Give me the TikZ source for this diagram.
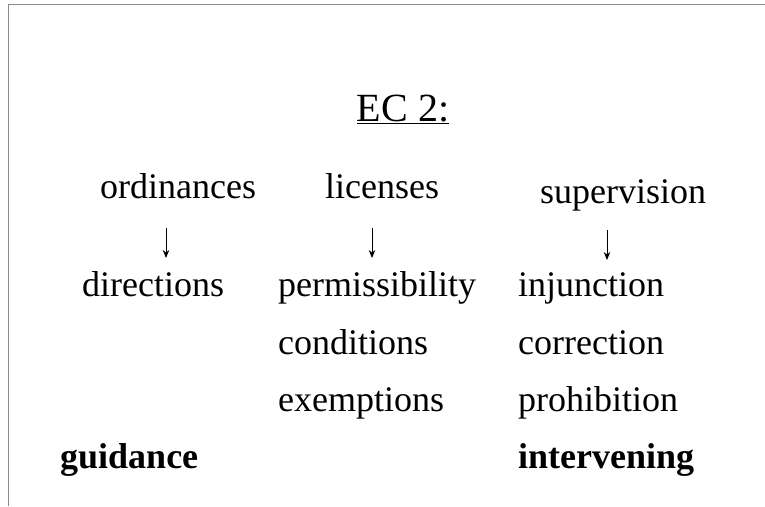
\documentclass[tikz,border=0pt]{standalone}
\usepackage{fontspec}
\setmainfont{Liberation Serif}
\usetikzlibrary{arrows.meta}
\begin{document}
\begin{tikzpicture}[x=1pt,y=-1pt,
  word/.style={inner sep=0pt,anchor=base west,font=\fontsize{36}{40}\selectfont},
  strong/.style={word,font=\fontsize{36}{40}\selectfont\bfseries},
  head/.style={inner sep=0pt,anchor=base,font=\fontsize{40}{44}\selectfont},
  down/.style={line width=0.9pt,-{Stealth[length=8pt,width=6.5pt]}},
  frame/.style={draw=black!45,line width=1.8pt}]
  \useasboundingbox (0,0) rectangle (765,506);
  % sheet edges
  \draw[frame] (8.5,506) -- (8.5,4.5) -- (765,4.5);
  % title
  \node[head] (title) at (403,121) {\underline{EC 2:}};
  % top row
  \node[word] (ord) at (100,198) {ordinances};
  \node[word] (lic) at (325,198) {licenses};
  \node[word] (sup) at (540,203) {supervision};
  % arrow ends
  \coordinate (a1s) at (166,228); \coordinate (a1e) at (166,258);
  \coordinate (a2s) at (372,228); \coordinate (a2e) at (372,258);
  \coordinate (a3s) at (607,230); \coordinate (a3e) at (607,260);
  \draw[down] (a1s) -- (a1e);
  \draw[down] (a2s) -- (a2e);
  \draw[down] (a3s) -- (a3e);
  % columns
  \node[word] (dir) at (82,296) {directions};
  \node[word] (per) at (278,296) {permissibility};
  \node[word] (con) at (278,354) {conditions};
  \node[word] (exe) at (278,411) {exemptions};
  \node[word] (inj) at (518,296) {injunction};
  \node[word] (cor) at (518,354) {correction};
  \node[word] (pro) at (518,411) {prohibition};
  % summary row
  \node[strong] (gui) at (60,468) {guidance};
  \node[strong] (int) at (518,468) {intervening};
\end{tikzpicture}
\end{document}
